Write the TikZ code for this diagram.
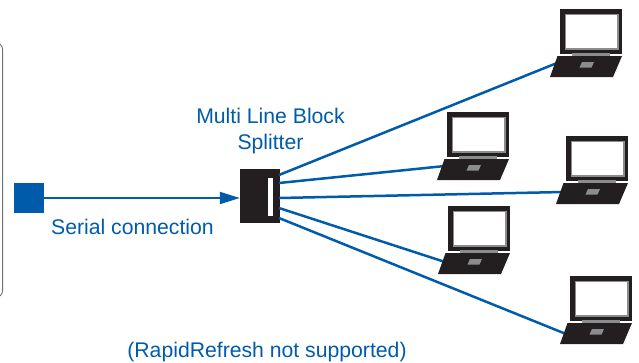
\documentclass[tikz,border=0pt]{standalone}
\usepackage{fontspec}
\setmainfont{Liberation Sans}
\usetikzlibrary{arrows.meta}
\definecolor{netblue}{HTML}{005BAA}
\definecolor{lapblack}{HTML}{231F20}
\definecolor{lapgray}{HTML}{8A8C8E}
\tikzset{
  link/.style={draw=netblue,line width=2.5pt},
  lbl/.style={text=netblue,font=\fontsize{21.2}{26}\selectfont,align=center,inner sep=0pt},
  laptop/.pic={
    \fill[lapblack] (0,0) rectangle (62,45);
    \fill[lapgray] (4.5,4.5) rectangle (58.5,41);
    \fill[white] (6,6) rectangle (57,39);
    \fill[lapgray] (12,43.5) rectangle (50,47);
    \fill[white] (-1,45) rectangle (12,47) (50,45) rectangle (63,47);
    \fill[lapblack] (-2.5,47) -- (62,47) -- (53,68) -- (-10,68) -- cycle;
    \fill[lapgray] (22,53) -- (34,53) -- (31.5,58.5) -- (19.5,58.5) -- cycle;
  }
}
\begin{document}
\begin{tikzpicture}[x=1pt,y=-1pt]
\useasboundingbox (0,0) rectangle (639,362);
\draw[draw=black!55,line width=0.9pt,rounded corners=7pt] (-20,42.5) -- (2.6,42.5) -- (2.6,297.5) -- (-20,297.5);
\node[fill=netblue,minimum size=30pt,inner sep=0pt] (src) at (29,198) {};
\node[fill=lapblack,minimum width=40pt,minimum height=54pt,inner sep=0pt] (split) at (260,196) {};
\coordinate (a1) at (279,175);
\coordinate (a2) at (279,183);
\coordinate (a3) at (279,198);
\coordinate (a4) at (279,208);
\coordinate (a5) at (279,218);
\coordinate (b1) at (557,63);
\coordinate (b2) at (445,166);
\coordinate (b3) at (563,192);
\coordinate (b4) at (445,262);
\coordinate (b5) at (566,334);
\draw[link] (a1) -- (b1);
\draw[link] (a2) -- (b2);
\draw[link] (a3) -- (b3);
\draw[link] (a4) -- (b4);
\draw[link] (a5) -- (b5);
\draw[draw=netblue,line width=2pt,-{Triangle[length=20pt,width=12pt]}] (src.east) -- (split.west |- src.east);
\fill[white] (268,178) rectangle (273,216);
\pic at (560,9) {laptop};
\pic at (447,112) {laptop};
\pic at (566,136) {laptop};
\pic at (448,206) {laptop};
\pic at (570,276) {laptop};
\node[lbl] (title) at (270.5,131.5) {Multi Line Block\\Splitter};
\node[lbl] (serial) at (132.5,227) {Serial connection};
\node[lbl] (note) at (267,352) {(RapidRefresh not supported)};
\end{tikzpicture}
\end{document}
